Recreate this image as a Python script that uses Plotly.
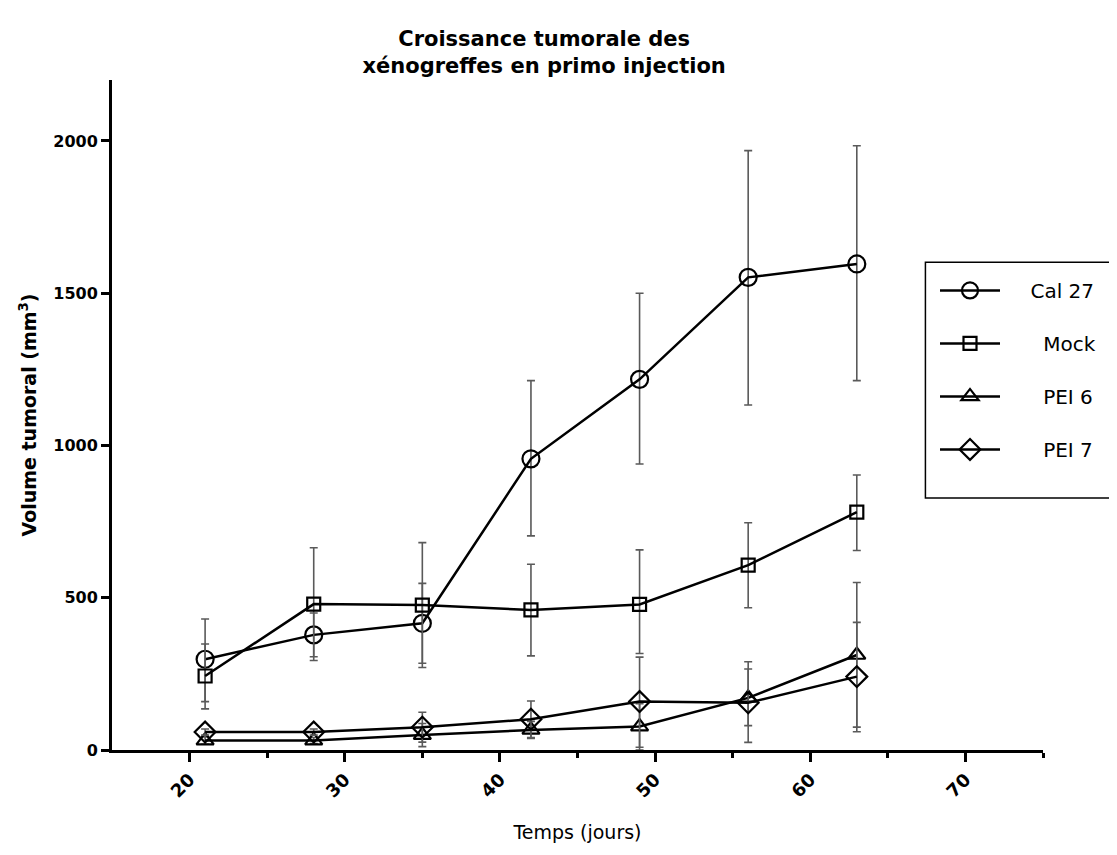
import plotly.graph_objects as go

days = [21, 28, 35, 42, 49, 56, 63]

series_names = ["Cal 27", "Mock", "PEI 6", "PEI 7"]
cal27 = [298, 378, 416, 956, 1217, 1552, 1596]
cal27_plus = [132, 72, 131, 257, 283, 416, 388]
cal27_minus = [139, 72, 131, 253, 278, 419, 383]

mock = [243, 479, 476, 460, 478, 607, 781]
mock_plus = [105, 185, 205, 150, 179, 139, 122]
mock_minus = [108, 185, 205, 151, 161, 140, 126]

pei6 = [31, 31, 49, 66, 77, 171, 312]
pei6_plus = [12, 10, 38, 28, 75, 119, 238]
pei6_minus = [12, 10, 38, 28, 77, 146, 237]

pei7 = [59, 59, 75, 101, 159, 155, 241]
pei7_plus = [10, 10, 49, 60, 146, 111, 178]
pei7_minus = [10, 10, 49, 60, 150, 75, 181]

x_ticks = [20, 30, 40, 50, 60, 70]
x_minor_ticks = [25, 35, 45, 55, 65, 75]
y_ticks = [0, 500, 1000, 1500, 2000]

symbols = ["circle-open", "square-open", "triangle-up-open", "diamond-open"]
sizes = [17, 13, 15, 16]
values = [cal27, mock, pei6, pei7]
plus = [cal27_plus, mock_plus, pei6_plus, pei7_plus]
minus = [cal27_minus, mock_minus, pei6_minus, pei7_minus]
legend_pad = [4, 6, 6, 6]

FONT = "DejaVu Sans, Arial, sans-serif"
NB = "\u00a0"

fig = go.Figure()
for i, name in enumerate(series_names):
    fig.add_trace(go.Scatter(
        x=days, y=values[i], name=NB * legend_pad[i] + name,
        mode="lines+markers", legendgroup=name,
        line=dict(color="black", width=2.5),
        marker=dict(symbol=symbols[i], size=sizes[i], color="black",
                    line=dict(color="black", width=2.2)),
        error_y=dict(type="data", array=plus[i], arrayminus=minus[i],
                     symmetric=False, color="#5a5a5a", thickness=1.6, width=4),
    ))

# legend frame (paper coords of plot area)
fig.add_shape(type="rect", xref="paper", yref="paper",
              x0=0.8737, x1=1.079, y0=0.376, y1=0.728,
              line=dict(color="black", width=1.5), fillcolor="rgba(0,0,0,0)")

fig.update_layout(
    width=1117, height=855,
    paper_bgcolor="white", plot_bgcolor="white",
    margin=dict(l=104, r=82, t=72, b=113),
    font=dict(family=FONT, color="black"),
    title=dict(text="<b>Croissance tumorale des<br>xénogreffes en primo injection</b>",
               x=0.48, xanchor="center", y=0.9555, yanchor="top",
               font=dict(size=21, family=FONT, color="black")),
    showlegend=True,
    legend=dict(x=0.884, y=0.715, xanchor="left", yanchor="top",
                borderwidth=0, bgcolor="rgba(0,0,0,0)",
                font=dict(size=20, family=FONT), tracegroupgap=24,
                itemwidth=60),
)

fig.update_xaxes(
    range=[15, 75], tickvals=x_ticks, ticktext=[str(v) for v in x_ticks],
    tickangle=-45, ticks="outside", ticklen=9, tickwidth=3, tickcolor="black",
    showline=True, linewidth=3, linecolor="black", showgrid=False, zeroline=False,
    tickfont=dict(size=18, family=FONT, weight="bold"),
    minor=dict(tickvals=x_minor_ticks, ticks="outside", ticklen=5,
               tickwidth=3, tickcolor="black", showgrid=False),
    title=dict(text="Temps (jours)", font=dict(size=19, family=FONT), standoff=26),
)
fig.update_yaxes(
    range=[0, 2200], tickvals=y_ticks, ticks="outside", ticklen=8, tickwidth=3,
    tickcolor="black", showline=True, linewidth=3, linecolor="black",
    showgrid=False, zeroline=False,
    tickfont=dict(size=16, family=FONT, weight="bold"),
    title=dict(text="<b>Volume tumoral (mm<sup>3</sup>)</b>", font=dict(size=19, family=FONT),
               standoff=12),
)

fig.write_html("out.html")
